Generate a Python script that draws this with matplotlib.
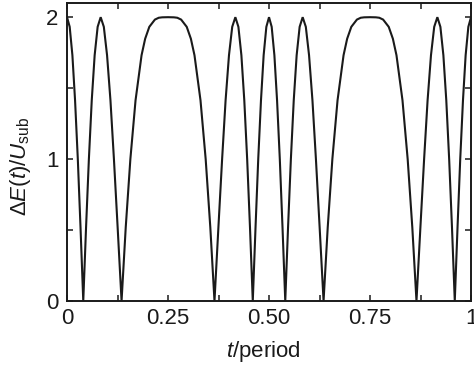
import matplotlib
matplotlib.use("Agg")
import matplotlib.pyplot as plt
from matplotlib.ticker import MultipleLocator

# Curve samples (t/period, ΔE/U_sub)
t_vals = [
    0.0, 0.0066, 0.0133, 0.0199, 0.0267, 0.0334, 0.0402, 0.0471, 0.0541, 0.0612,
    0.0684, 0.0758, 0.0833, 0.0911, 0.0991, 0.1075, 0.1161, 0.1253, 0.1350, 0.1453,
    0.1568, 0.1696, 0.1845, 0.1934, 0.2037, 0.2175, 0.2270, 0.2355, 0.2500,
    0.2645, 0.2730, 0.2825, 0.2963, 0.3066, 0.3155, 0.3304, 0.3432, 0.3547, 0.3650,
    0.3747, 0.3839, 0.3925, 0.4009, 0.4089, 0.4167, 0.4242, 0.4316, 0.4388, 0.4459,
    0.4529, 0.4598, 0.4666, 0.4733, 0.4801, 0.4867, 0.4934, 0.5000,
    0.5066, 0.5133, 0.5199, 0.5267, 0.5334, 0.5402, 0.5471, 0.5541, 0.5612,
    0.5684, 0.5758, 0.5833, 0.5911, 0.5991, 0.6075, 0.6161, 0.6253, 0.6350, 0.6453,
    0.6568, 0.6696, 0.6845, 0.6934, 0.7037, 0.7175, 0.7270, 0.7355, 0.7500,
    0.7645, 0.7730, 0.7825, 0.7963, 0.8066, 0.8155, 0.8304, 0.8432, 0.8547, 0.8650,
    0.8747, 0.8839, 0.8925, 0.9009, 0.9089, 0.9167, 0.9242, 0.9316, 0.9388, 0.9459,
    0.9529, 0.9598, 0.9666, 0.9733, 0.9801, 0.9867, 0.9934, 1.0000,
]
dE_vals = [
    2.0, 1.932, 1.732, 1.414, 1.0, 0.518, 0.0, 0.518, 1.0, 1.414,
    1.732, 1.932, 2.0, 1.932, 1.732, 1.414, 1.0, 0.518, 0.0, 0.518,
    1.0, 1.414, 1.732, 1.848, 1.932, 1.983, 1.996, 1.999, 2.0,
    1.999, 1.996, 1.983, 1.932, 1.848, 1.732, 1.414, 1.0, 0.518, 0.0,
    0.518, 1.0, 1.414, 1.732, 1.932, 2.0, 1.932, 1.732, 1.414, 1.0,
    0.518, 0.0, 0.518, 1.0, 1.414, 1.732, 1.932, 2.0,
    1.932, 1.732, 1.414, 1.0, 0.518, 0.0, 0.518, 1.0, 1.414,
    1.732, 1.932, 2.0, 1.932, 1.732, 1.414, 1.0, 0.518, 0.0, 0.518,
    1.0, 1.414, 1.732, 1.848, 1.932, 1.983, 1.996, 1.999, 2.0,
    1.999, 1.996, 1.983, 1.932, 1.848, 1.732, 1.414, 1.0, 0.518, 0.0,
    0.518, 1.0, 1.414, 1.732, 1.932, 2.0, 1.932, 1.732, 1.414, 1.0,
    0.518, 0.0, 0.518, 1.0, 1.414, 1.732, 1.932, 2.0,
]

x_ticks = [0, 0.25, 0.5, 0.75, 1]
x_ticklabels = ["0", "0.25", "0.50", "0.75", "1"]
y_ticks = [0, 1, 2]
y_ticklabels = ["0", "1", "2"]

plt.rcParams["font.family"] = ["Liberation Sans", "DejaVu Sans"]
plt.rcParams["mathtext.fontset"] = "custom"
plt.rcParams["mathtext.rm"] = "Liberation Sans"
plt.rcParams["mathtext.it"] = "Liberation Sans:italic"
plt.rcParams["mathtext.bf"] = "Liberation Sans:bold"

ink = "#1a1a1a"
fig = plt.figure(figsize=(4.74, 3.70), dpi=100)
ax = fig.add_axes([0.1414, 0.1865, 0.8523, 0.8054])

ax.plot(t_vals, dE_vals, color=ink, lw=1.5, solid_joinstyle="miter")

ax.set_xlim(0, 1)
ax.set_ylim(0, 2.1)
ax.set_xticks(x_ticks)
ax.set_xticklabels(x_ticklabels)
ax.set_yticks(y_ticks)
ax.set_yticklabels(y_ticklabels)
ax.xaxis.set_minor_locator(MultipleLocator(0.125))
ax.yaxis.set_minor_locator(MultipleLocator(0.5))
ax.tick_params(which="both", direction="in", top=True, right=True,
               length=4, width=1.1, color=ink)
ax.tick_params(axis="x", which="major", labelsize=16, pad=5, labelcolor=ink)
ax.tick_params(axis="y", which="major", labelsize=16, pad=6, labelcolor=ink)
for s in ax.spines.values():
    s.set_linewidth(1.4)
    s.set_color(ink)

ax.set_xlabel(r"$t$/period", fontsize=16, color=ink)
ax.set_ylabel(r"$\Delta E(t)/U_{\rm sub}$", fontsize=16, color=ink)
ax.xaxis.set_label_coords(0.485, -0.127)
ax.yaxis.set_label_coords(-0.084, 0.453)

fig.savefig("out.png", dpi=100)
